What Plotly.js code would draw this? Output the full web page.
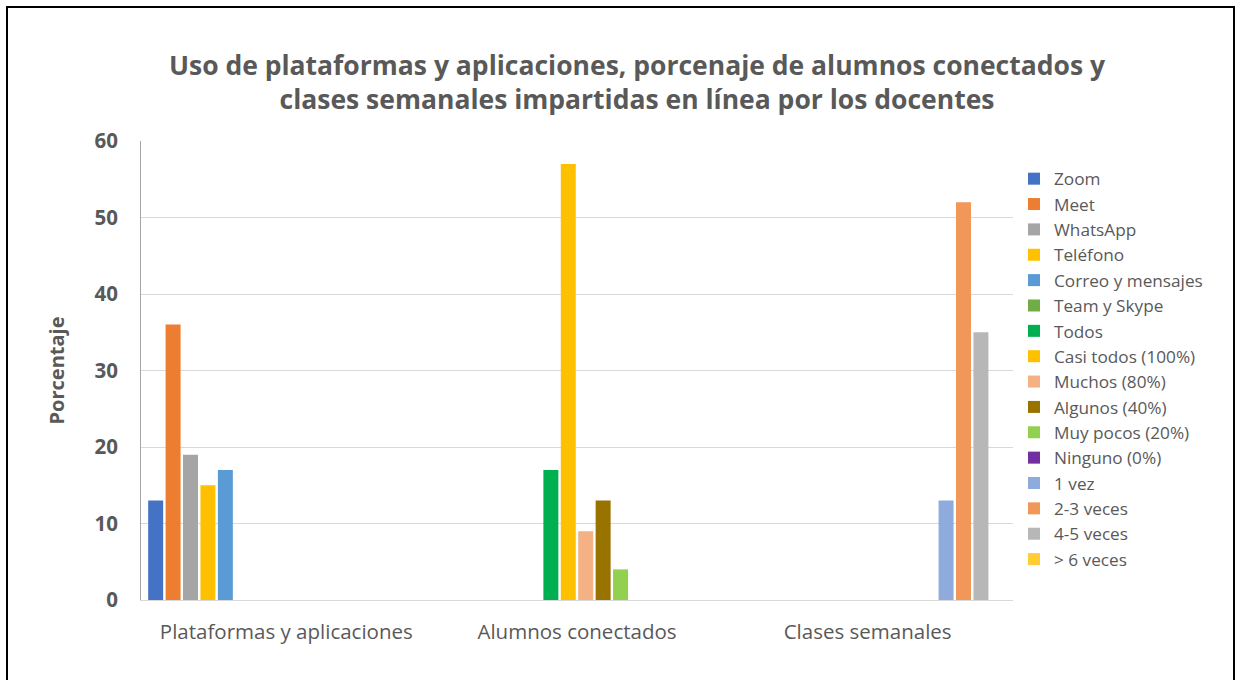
<!DOCTYPE html>
<html>
<head>
<meta charset="utf-8">
<script src="https://cdn.plot.ly/plotly-3.0.1.min.js"></script>
<style>
  html, body { margin: 0; padding: 0; background: #ffffff; }
  #wrap { position: relative; width: 1241px; height: 680px; overflow: hidden; }
  #chart { position: absolute; left: 0; top: 0; width: 1241px; height: 680px; }
  #frame { position: absolute; left: 6px; top: 6px; width: 1225px; height: 700px;
           border: 2px solid #000; pointer-events: none; }
</style>
</head>
<body>
<div id="wrap">
  <div id="chart"></div>
  <div id="frame"></div>
</div>
<script>
const categories = ['Plataformas y aplicaciones', 'Alumnos conectados', 'Clases semanales'];

const seriesNames = ['Zoom', 'Meet', 'WhatsApp', 'Teléfono', 'Correo y mensajes', 'Team y Skype',
  'Todos', 'Casi todos (100%)', 'Muchos (80%)', 'Algunos (40%)', 'Muy pocos (20%)', 'Ninguno (0%)',
  '1 vez', '2-3 veces', '4-5 veces', '> 6 veces'];

const seriesColors = ['#4472C4', '#ED7D31', '#A5A5A5', '#FFC000', '#5B9BD5', '#70AD47',
  '#00B050', '#FFC000', '#F4B183', '#997300', '#92D050', '#7030A0',
  '#8FAADC', '#F1975A', '#B7B7B7', '#FFCD33'];

// values per category, one entry per series (null = no value in that category)
const plataformasValues = [13, 36, 19, 15, 17, 0, null, null, null, null, null, null, null, null, null, null];
const alumnosValues     = [null, null, null, null, null, null, 17, 57, 9, 13, 4, 0, null, null, null, null];
const clasesValues      = [null, null, null, null, null, null, null, null, null, null, null, null, 13, 52, 35, 0];

const yTicks = [0, 10, 20, 30, 40, 50, 60];

const FONT = '"Open Sans", "Noto Sans", sans-serif';
const GREY = '#595959';

const traces = seriesNames.map((name, i) => ({
  type: 'bar',
  name: name,
  x: categories,
  y: [plataformasValues[i], alumnosValues[i], clasesValues[i]],
  marker: { color: seriesColors[i] },
  hoverinfo: 'name+y'
}));

const layout = {
  width: 1241,
  height: 680,
  paper_bgcolor: '#ffffff',
  plot_bgcolor: '#ffffff',
  margin: { l: 141, r: 228, t: 141, b: 80 },
  barmode: 'group',
  bargap: 0.041,
  bargroupgap: 0.14,
  title: {
    text: 'Uso de plataformas y aplicaciones, porcenaje de alumnos conectados y<br>clases semanales impartidas en línea por los docentes',
    font: { family: FONT, size: 26.5, color: GREY, weight: 'bold' },
    x: 637 / 1241,
    xanchor: 'center',
    y: 1 - 75 / 680,
    yanchor: 'middle'
  },
  xaxis: {
    type: 'category',
    showgrid: false,
    showline: true,
    linecolor: '#D9D9D9',
    linewidth: 1,
    ticks: '',
    ticklabelstandoff: 13,
    tickfont: { family: FONT, size: 20.5, color: GREY }
  },
  yaxis: {
    range: [0, 60],
    tickvals: yTicks,
    ticktext: yTicks.map(String),
    showgrid: true,
    gridcolor: '#D9D9D9',
    gridwidth: 1,
    showline: true,
    linecolor: '#A6A6A6',
    linewidth: 1,
    zeroline: false,
    ticks: '',
    ticklabelstandoff: 18,
    tickfont: { family: FONT, size: 20.5, color: GREY, weight: 'bold' },
    title: {
      text: 'Porcentaje',
      font: { family: FONT, size: 20, color: GREY, weight: 'bold' },
      standoff: 24
    }
  },
  legend: {
    xref: 'container',
    yref: 'container',
    x: 1014 / 1241,
    xanchor: 'left',
    y: 1 - 161 / 680,
    yanchor: 'top',
    traceorder: 'normal',
    font: { family: FONT, size: 17.2, color: GREY },
    itemwidth: 30,
    tracegroupgap: 0,
    maxheight: 500,
    bgcolor: 'rgba(0,0,0,0)'
  },
  showlegend: true
};

Plotly.newPlot('chart', traces, layout, { displayModeBar: false, staticPlot: true });
</script>
</body>
</html>
